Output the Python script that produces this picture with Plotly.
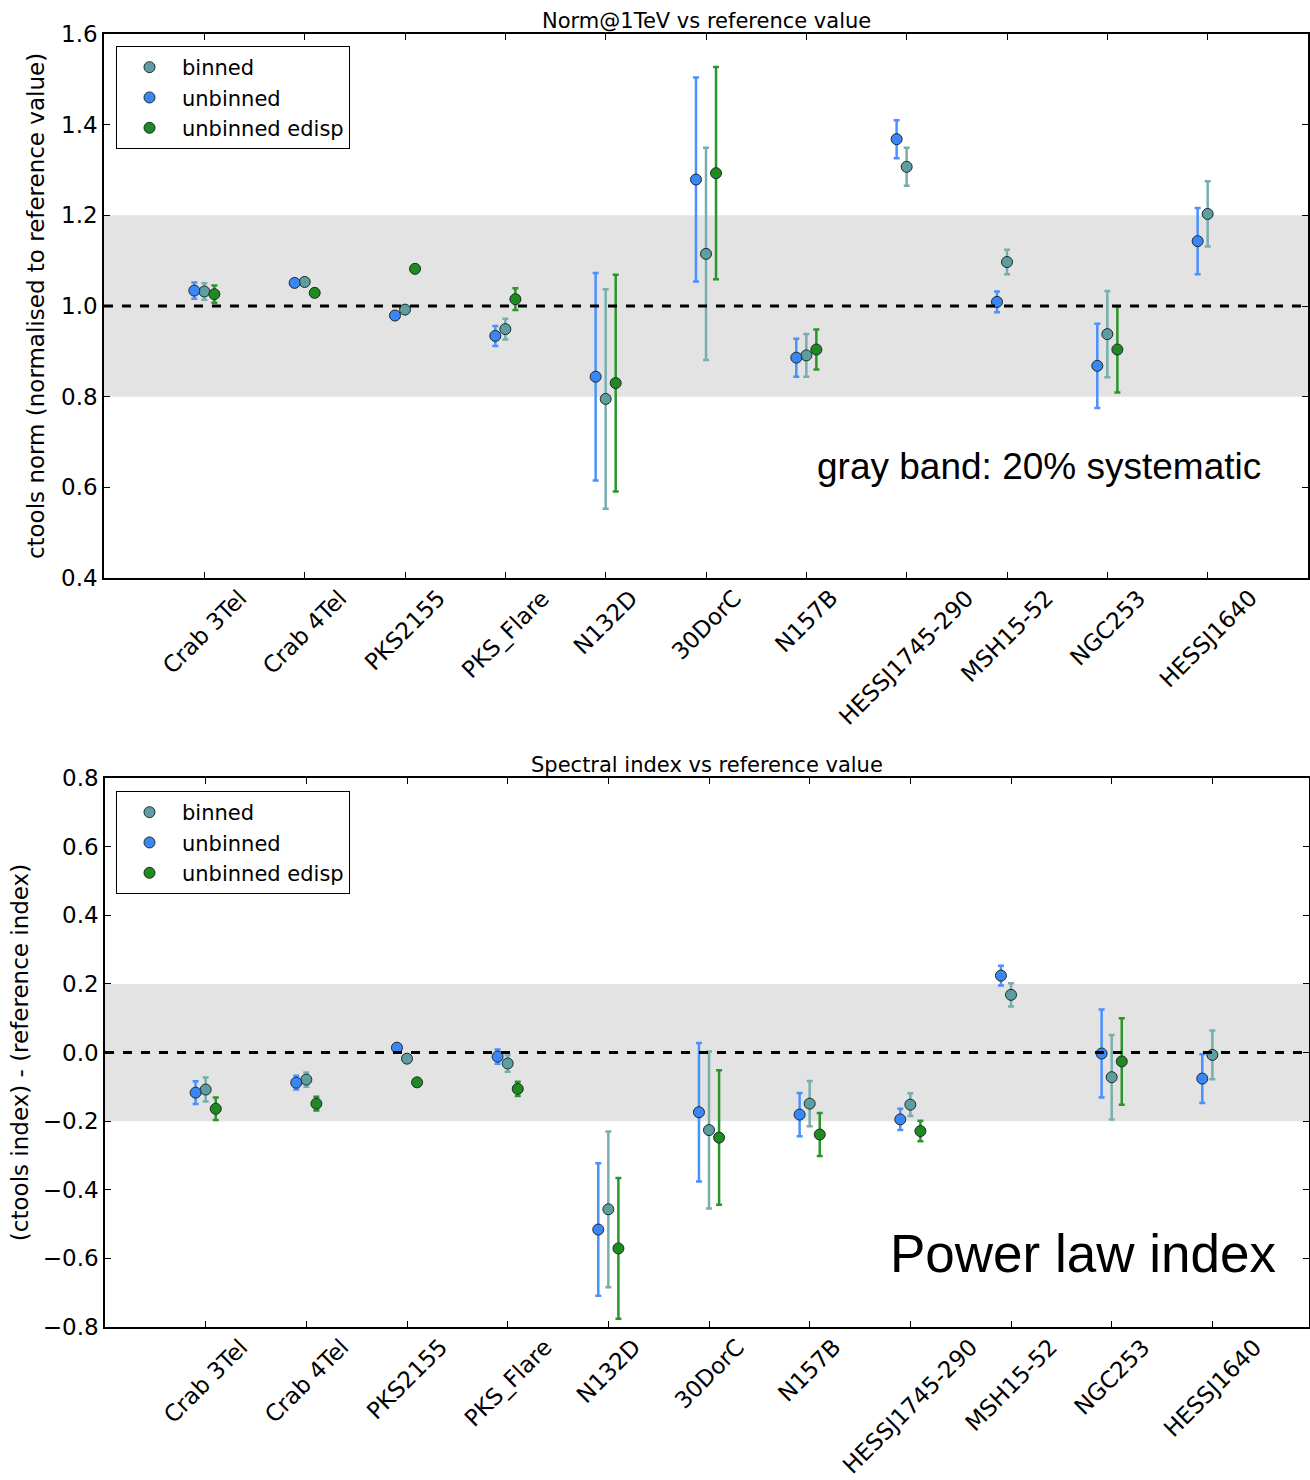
import plotly.graph_objects as go

categories = ["Crab 3Tel", "Crab 4Tel", "PKS2155", "PKS_Flare", "N132D", "30DorC",
              "N157B", "HESSJ1745-290", "MSH15-52", "NGC253", "HESSJ1640"]

# ---- Norm@1TeV (normalised to reference) ----
norm_binned     = [1.032, 1.053, 0.992, 0.949, 0.795, 1.115, 0.891, 1.307, 1.097, 0.938, 1.203]
norm_binned_err = [0.018, 0.008, 0.004, 0.023, 0.242, 0.234, 0.047, 0.042, 0.027, 0.095, 0.072]
norm_unb        = [1.034, 1.051, 0.979, 0.934, 0.844, 1.279, 0.886, 1.368, 1.009, 0.868, 1.143]
norm_unb_err    = [0.018, 0.008, 0.004, 0.022, 0.229, 0.225, 0.042, 0.042, 0.023, 0.093, 0.073]
norm_edisp      = [1.026, 1.029, 1.082, 1.015, 0.830, 1.293, 0.904, None, None, 0.904, None]
norm_edisp_err  = [0.019, 0.008, 0.004, 0.024, 0.239, 0.234, 0.044, None, None, 0.095, None]

# ---- Spectral index difference ----
idx_binned     = [-0.108, -0.079, -0.018, -0.032, -0.457, -0.226, -0.149, -0.152, 0.168, -0.072, -0.007]
idx_binned_err = [0.035, 0.021, 0.004, 0.024, 0.227, 0.229, 0.066, 0.033, 0.034, 0.123, 0.071]
idx_unb        = [-0.117, -0.088, 0.014, -0.012, -0.516, -0.174, -0.181, -0.195, 0.224, -0.003, -0.076]
idx_unb_err    = [0.033, 0.020, 0.004, 0.021, 0.193, 0.202, 0.063, 0.031, 0.029, 0.128, 0.071]
idx_edisp      = [-0.164, -0.149, -0.087, -0.106, -0.571, -0.248, -0.239, -0.229, None, -0.026, None]
idx_edisp_err  = [0.033, 0.020, 0.004, 0.021, 0.205, 0.196, 0.063, 0.030, None, 0.126, None]

series_names = ["binned", "unbinned", "unbinned edisp"]
offsets = [0.0, -0.1, 0.1]
fill_colors = ["#5f9ea0", "#3a86f5", "#1f8a1f"]
err_colors = ["#78aeae", "#4a90ff", "#2a962a"]

W, H = 1310, 1480
fig = go.Figure()

def add_series(vals, errs, k, xaxis, yaxis, legend, show):
    xs, ys, es = [], [], []
    for i, (v, e) in enumerate(zip(vals, errs)):
        if v is None:
            continue
        xs.append(i + offsets[k]); ys.append(v); es.append(e)
    fig.add_trace(go.Scatter(
        x=xs, y=ys, mode="markers", name=series_names[k],
        xaxis=xaxis, yaxis=yaxis, legend=legend, showlegend=show,
        marker=dict(size=11, color=fill_colors[k], line=dict(color="#1a2a2a", width=1)),
        error_y=dict(type="data", array=es, visible=True, color=err_colors[k],
                     thickness=2.5, width=3),
    ))

top_sets = [(norm_binned, norm_binned_err), (norm_unb, norm_unb_err), (norm_edisp, norm_edisp_err)]
bot_sets = [(idx_binned, idx_binned_err), (idx_unb, idx_unb_err), (idx_edisp, idx_edisp_err)]
for k in range(3):
    add_series(*top_sets[k], k, "x", "y", "legend", True)
for k in range(3):
    add_series(*bot_sets[k], k, "x2", "y2", "legend2", True)

font_family = "DejaVu Sans"
tickfont = dict(family=font_family, size=23, color="black")

def xaxis_cfg(domain, rng, anchor):
    return dict(domain=domain, range=rng, tickmode="array",
                tickvals=list(range(len(categories))), showticklabels=False,
                showline=True, linecolor="black", anchor=anchor,
                linewidth=1.5, mirror="allticks", ticks="inside", ticklen=6,
                tickcolor="black", showgrid=False, zeroline=False, automargin=False)

def yaxis_cfg(domain, rng, dtick, title, anchor, standoff):
    return dict(domain=domain, range=rng, dtick=dtick, tick0=rng[0], tickformat=".1f",
                tickfont=tickfont, showline=True, linecolor="black", linewidth=1.5,
                mirror="allticks", ticks="inside", ticklen=6, tickcolor="black",
                showgrid=False, zeroline=False, anchor=anchor, automargin=False,
                title=dict(text=title, font=dict(family=font_family, size=23, color="black"),
                           standoff=standoff))

top_x = [104 / W, 1308 / W]
top_y = [1 - 578 / H, 1 - 34 / H]
bot_x = [105 / W, 1309 / W]
bot_y = [1 - 1327 / H, 1 - 778 / H]

legend_common = dict(xanchor="left", yanchor="top", bordercolor="black", borderwidth=1,
                     bgcolor="white", font=dict(family=font_family, size=21, color="black"),
                     tracegroupgap=0, itemwidth=55)

fig.update_layout(
    width=W, height=H, margin=dict(l=0, r=0, t=0, b=0, autoexpand=False),
    plot_bgcolor="white", paper_bgcolor="white",
    xaxis=xaxis_cfg(top_x, [-1, 11], "y"),
    yaxis=yaxis_cfg(top_y, [0.4, 1.6], 0.2, "ctools norm (normalised to reference value)", "x", 10),
    xaxis2=xaxis_cfg(bot_x, [-1, 10.96], "y2"),
    yaxis2=yaxis_cfg(bot_y, [-0.8, 0.8], 0.2, "(ctools index) - (reference index)", "x2", 8),
    legend=dict(legend_common, x=116 / W, y=1 - 46 / H),
    legend2=dict(legend_common, x=116 / W, y=1 - 791 / H),
    showlegend=True,
)

# gray bands and dashed reference lines
fig.add_shape(type="rect", xref="x domain", yref="y", x0=0, x1=1, y0=0.8, y1=1.2,
              fillcolor="#e3e3e3", line=dict(width=0), layer="below")
fig.add_shape(type="line", xref="x domain", yref="y", x0=0, x1=1, y0=1.0, y1=1.0,
              line=dict(color="black", width=3, dash="dash"))
fig.add_shape(type="rect", xref="x2 domain", yref="y2", x0=0, x1=1, y0=-0.2, y1=0.2,
              fillcolor="#e3e3e3", line=dict(width=0), layer="below")
fig.add_shape(type="line", xref="x2 domain", yref="y2", x0=0, x1=1, y0=0.0, y1=0.0,
              line=dict(color="black", width=3, dash="dash"))

# rotated category labels, centred under each tick (matplotlib style)
for xr, ybase in (("x", top_y[0]), ("x2", bot_y[0])):
    for i, name in enumerate(categories):
        fig.add_annotation(text=name, xref=xr, yref="paper", x=i, y=ybase,
                           xanchor="center", yanchor="top", yshift=-4,
                           textangle=-45, showarrow=False,
                           font=dict(family=font_family, size=23, color="black"))

# titles
fig.add_annotation(text="Norm@1TeV vs reference value", xref="paper", yref="paper",
                   x=(top_x[0] + top_x[1]) / 2, y=1 - 21 / H, showarrow=False,
                   xanchor="center", yanchor="middle",
                   font=dict(family=font_family, size=21, color="black"))
fig.add_annotation(text="Spectral index vs reference value", xref="paper", yref="paper",
                   x=(bot_x[0] + bot_x[1]) / 2, y=1 - 765 / H, showarrow=False,
                   xanchor="center", yanchor="middle",
                   font=dict(family=font_family, size=21, color="black"))

# in-plot labels
fig.add_annotation(text="gray band: 20% systematic", xref="paper", yref="paper",
                   x=1263 / W, y=1 - 467 / H, xanchor="right", yanchor="middle",
                   showarrow=False,
                   font=dict(family="Liberation Sans", size=37, color="black"))
fig.add_annotation(text="Power law index", xref="paper", yref="paper",
                   x=1278 / W, y=1 - 1253 / H, xanchor="right", yanchor="middle",
                   showarrow=False,
                   font=dict(family="Liberation Sans", size=53, color="black"))

fig.write_html("out.html")
